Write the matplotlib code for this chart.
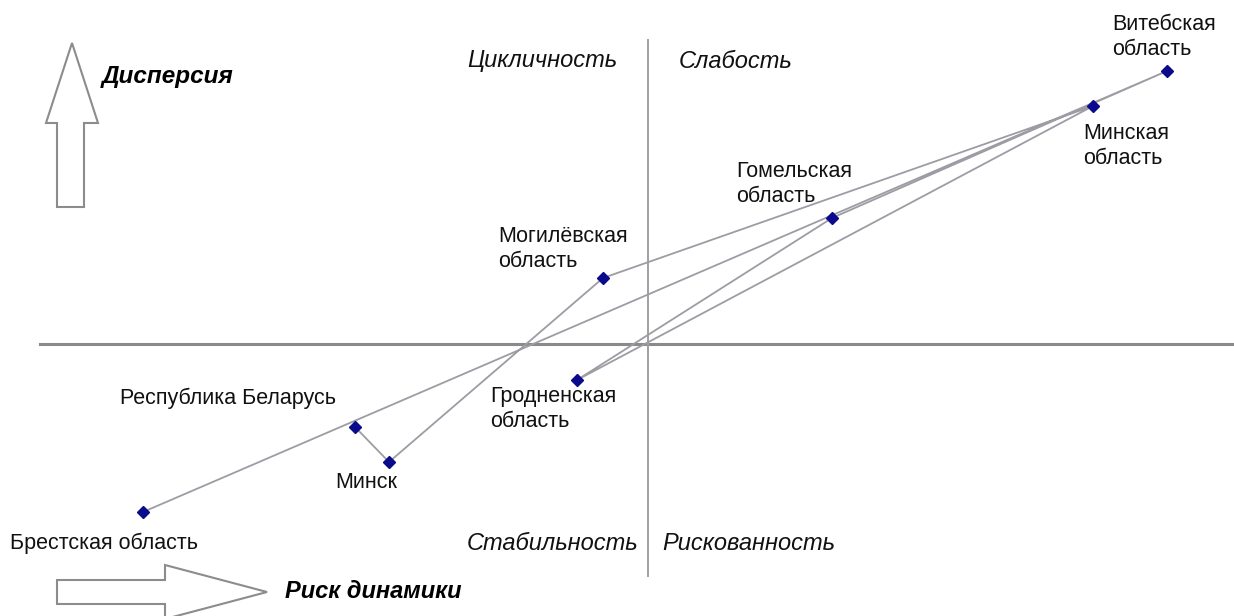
import matplotlib
matplotlib.use("Agg")
import matplotlib.pyplot as plt
from matplotlib.patches import Polygon

plt.rcParams['font.family'] = ['Liberation Sans', 'DejaVu Sans']

# регионы в порядке соединения линией
regions = ["Брестская\u00a0область", "Витебская\nобласть", "Гомельская\nобласть",
           "Гродненская\nобласть", "Минская\nобласть", "Могилёвская\nобласть",
           "Минск", "Республика Беларусь"]
risk = [-5.05, 5.19, 1.84, -0.71, 4.45, -0.45, -2.59, -2.93]        # риск динамики (ось X)
dispersion = [-1.68, 2.73, 1.26, -0.36, 2.38, 0.66, -1.18, -0.83]  # дисперсия (ось Y)

# смещения подписей в пикселях (лево текста, центр по вертикали)
label_offsets = [(-133, -31), (-55, 34), (-96, 34), (-87, -29),
                 (-10, -40), (-105, 29), (-54, -20), (-235, 29)]

W, H = 1234, 616
fig = plt.figure(figsize=(W / 100, H / 100), dpi=100)
ax = fig.add_axes([0, 0, 1, 1])
ax.set_xlim(-6.48, 5.86)
ax.set_ylim(-2.72, 3.44)
ax.axis('off')


def fx(px):
    return px / W


def fy(py):
    return 1 - py / H


# оси квадрантов
ax.axhline(0, xmin=fx(40), xmax=1, color='#8a8a8a', lw=2.2, zorder=1)
ax.axvline(0, ymin=fy(576), ymax=fy(40), color='#a0a0a0', lw=1.4, zorder=1)

# линия и точки
ax.plot(risk, dispersion, color='#9c9ca4', lw=1.3, zorder=2)
ax.plot(risk, dispersion, linestyle='none', marker='D', markersize=6.3,
        color='#0a0a8c', zorder=3)

for name, x, y, off in zip(regions, risk, dispersion, label_offsets):
    ax.annotate(name, (x, y), xytext=off, textcoords='offset pixels',
                ha='left', va='center', fontsize=15.5, linespacing=1.3,
                color='#111111')

# подписи квадрантов
quad = dict(transform=fig.transFigure, fontsize=17, style='italic',
            va='center', color='#111111')
fig.text(fx(617), fy(60), "Цикличность", ha='right', **quad)
fig.text(fx(679), fy(61), "Слабость", ha='left', **quad)
fig.text(fx(638), fy(543), "Стабильность", ha='right', **quad)
fig.text(fx(662), fy(543), "Рискованность", ha='left', **quad)

# стрелки
arrow_kw = dict(closed=True, facecolor='white', edgecolor='#8c8c8c', lw=1.5,
                transform=fig.transFigure, zorder=4)
up = [(57, 207), (57, 123), (46, 123), (72, 43), (98, 123), (84, 123), (84, 207)]
fig.patches.append(Polygon([(fx(a), fy(b)) for a, b in up], **arrow_kw))
right = [(57, 580), (165, 580), (165, 565), (267, 592), (165, 619), (165, 604), (57, 604)]
fig.patches.append(Polygon([(fx(a), fy(b)) for a, b in right], **arrow_kw))

fig.text(fx(102), fy(77), "Дисперсия", ha='left', va='center', fontsize=17.5,
         style='italic', weight='bold', transform=fig.transFigure)
fig.text(fx(285), fy(592), "Риск динамики", ha='left', va='center', fontsize=17,
         style='italic', weight='bold', transform=fig.transFigure)

fig.savefig("out.png", dpi=100, facecolor='white')
